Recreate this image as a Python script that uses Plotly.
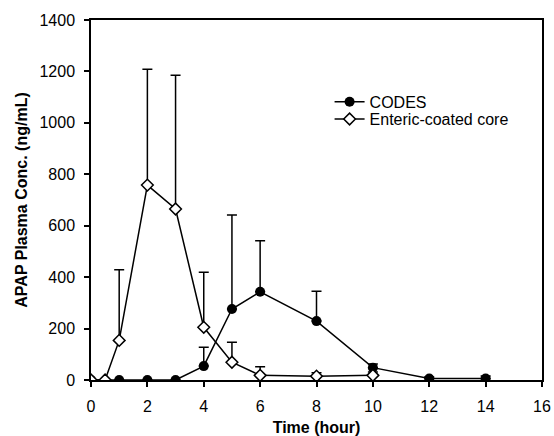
import plotly.graph_objects as go

# CODES
codes_t = [0, 1, 2, 3, 4, 5, 6, 8, 10, 12, 14]
codes_y = [0, 0, 0, 0, 54, 276, 343, 229, 48, 6, 6]
codes_err = [0, 0, 0, 0, 73, 366, 199, 116, 14, 6, 10]

# Enteric-coated core
ec_t = [0, 0.5, 1, 2, 3, 4, 5, 6, 8, 10]
ec_y = [0, 0, 154, 758, 665, 205, 69, 18, 15, 18]
ec_err = [0, 0, 275, 450, 520, 214, 78, 34, 13, 13]

x_ticks = [0, 2, 4, 6, 8, 10, 12, 14, 16]
y_ticks = [0, 200, 400, 600, 800, 1000, 1200, 1400]

fig = go.Figure()
fig.add_trace(go.Scatter(
    x=codes_t, y=codes_y, name="CODES", mode="lines+markers", legend="legend",
    line=dict(color="black", width=1.5),
    marker=dict(symbol="circle", size=10, color="black"),
    error_y=dict(type="data", symmetric=False, array=codes_err,
                 arrayminus=[0]*len(codes_err), color="black", thickness=1.5, width=5),
))
fig.add_trace(go.Scatter(
    x=ec_t, y=ec_y, name="Enteric-coated core", mode="lines+markers", legend="legend2",
    line=dict(color="black", width=1.5),
    marker=dict(symbol="diamond", size=9, color="white", line=dict(color="black", width=1.5)),
    error_y=dict(type="data", symmetric=False, array=ec_err,
                 arrayminus=[0]*len(ec_err), color="black", thickness=1.5, width=5),
))

leg_common = dict(xanchor="left", yanchor="top", bgcolor="rgba(0,0,0,0)",
                  font=dict(size=16), itemwidth=30)
fig.update_layout(
    width=554, height=436,
    margin=dict(l=91, r=12, t=20, b=56, autoexpand=False),
    paper_bgcolor="white", plot_bgcolor="white",
    font=dict(family="Liberation Sans, Arial, sans-serif", size=16, color="black"),
    legend=dict(x=0.529, y=0.82, **leg_common),
    legend2=dict(x=0.529, y=0.772, **leg_common),
    showlegend=True,
)
fig.update_xaxes(
    range=[0, 16], tickvals=x_ticks, ticktext=[str(v) for v in x_ticks],
    showgrid=False, zeroline=False, showline=True, linecolor="black", linewidth=1.5,
    mirror=True, ticks="outside", ticklen=5, tickwidth=1.5, tickcolor="black",
    ticklabelstandoff=6, automargin=False,
    title=dict(text="<b>Time (hour)</b>", font=dict(size=16), standoff=8),
)
fig.update_yaxes(
    range=[0, 1400], tickvals=y_ticks, ticktext=[str(v) for v in y_ticks],
    showgrid=False, zeroline=False, showline=True, linecolor="black", linewidth=1.5,
    mirror=True, ticks="outside", ticklen=5, tickwidth=1.5, tickcolor="black",
    ticklabelstandoff=6, automargin=False,
    title=dict(text="<b>APAP Plasma Conc. (ng/mL)</b>", font=dict(size=16), standoff=8),
)
fig.write_html("out.html")
